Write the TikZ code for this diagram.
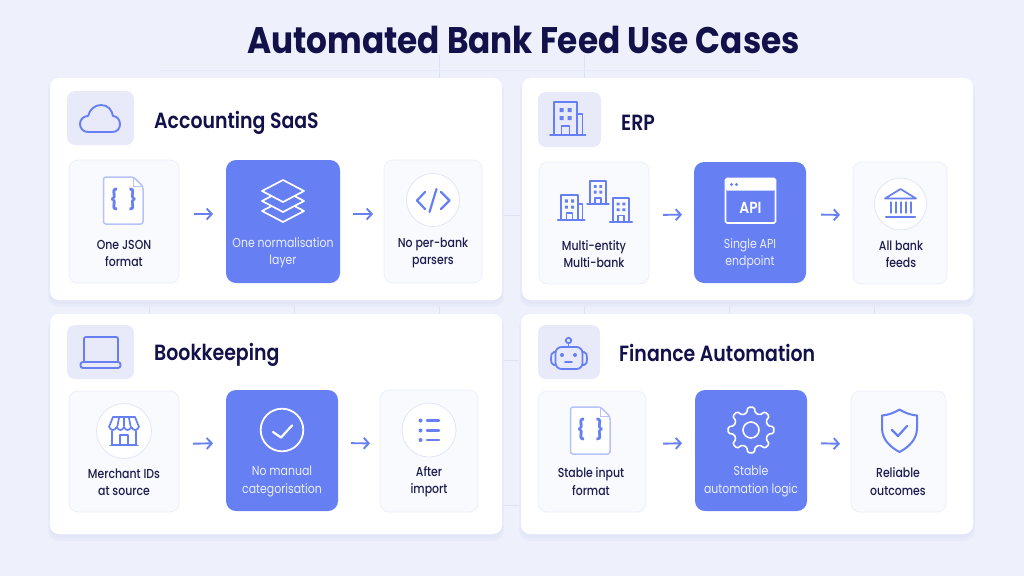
\documentclass[tikz,border=0pt]{standalone}
\usepackage{fontspec}
\setmainfont{Poppins}
\newfontfamily\titlefont[FakeStretch=.885]{Poppins Bold}
\newfontfamily\headfont[FakeStretch=.86]{Poppins SemiBold}
\newfontfamily\lblfont[FakeStretch=.84]{Poppins Medium}
\newfontfamily\midfont[FakeStretch=.84]{Poppins}
\usetikzlibrary{arrows.meta}
\definecolor{pagebg}{HTML}{EEF0FC}
\definecolor{gridc}{HTML}{DDE1F5}
\definecolor{shadowc}{HTML}{E3E6F7}
\definecolor{navy}{HTML}{12114A}
\definecolor{ink}{HTML}{1C1C4E}
\definecolor{blue}{HTML}{667FF3}
\definecolor{paleblue}{HTML}{B6C2F9}
\definecolor{iconbg}{HTML}{E8EAFA}
\definecolor{subbg}{HTML}{F9FAFE}
\definecolor{subline}{HTML}{ECEEF9}
\definecolor{midtext}{HTML}{EAEEFF}
\definecolor{ringc}{HTML}{E2E5F8}
\newcommand\bx[6]{%
  \pgfmathsetmacro\cxx{(#3+#5)/2}\pgfmathsetmacro\cyy{(#4+#6)/2}%
  \pgfmathsetmacro\www{#5-#3}\pgfmathsetmacro\hhh{#6-#4}%
  \node[#2,minimum width=\www pt,minimum height=\hhh pt] (#1) at (\cxx,\cyy) {};}
\newcommand\bldg[4]{% cx, bottom, scale, side
  \begin{scope}[shift={(#1,#2)},scale=#3,icon]
    \draw (-11.5,0) -- (-11.5,-33) -- (11.5,-33) -- (11.5,0);
    \draw (-15.5,0) -- (15.5,0);
    \ifnum#4=1 \draw (11.5,-21) -- (17,-21) -- (17,0); \draw (12,0) -- (20,0);\fi
    \draw (-4,0) -- (-4,-9) -- (4,-9) -- (4,0);
    \fill[blue] (-6,-27) rectangle (-2,-23) (2,-27) rectangle (6,-23) (-6,-19) rectangle (-2,-15) (2,-19) rectangle (6,-15);
  \end{scope}}
\newcommand\docicon[2]{%
  \begin{scope}[shift={(#1,#2)}]
    \draw[line width=1.5pt,paleblue,fill=white,rounded corners=2.5pt,line join=round] (-20,-23.5) -- (10,-23.5) -- (19.5,-14) -- (19.5,23.5) -- (-20,23.5) -- cycle;
    \draw[line width=1.2pt,paleblue,line join=round] (10,-23.5) -- (10,-14) -- (19.5,-14);
    \node[text=blue,font=\fontsize{20}{20}\titlefont,inner sep=0pt] at (0,-1) {\{\,\,\,\}};
  \end{scope}}
\tikzset{
  x=1pt,y=-1pt,
  card/.style={draw=none,fill=white,rounded corners=9pt,inner sep=0pt,outer sep=0pt},
  iconbox/.style={draw=none,fill=iconbg,rounded corners=8pt,inner sep=0pt,outer sep=0pt},
  subbox/.style={draw=subline,line width=.7pt,fill=subbg,rounded corners=9pt,inner sep=0pt,outer sep=0pt},
  midbox/.style={draw=none,fill=blue,rounded corners=10pt,inner sep=0pt,outer sep=0pt},
  heading/.style={anchor=west,text=navy,inner sep=0pt,font=\fontsize{22}{26}\headfont},
  lbl/.style={align=center,text=ink,inner sep=0pt,font=\fontsize{13}{17.3}\lblfont},
  midlbl/.style={align=center,inner sep=0pt,text=midtext,font=\fontsize{13}{17.3}\midfont},
  flow/.style={draw=blue,line width=1.9pt,-{Straight Barb[length=5pt,width=11pt,line width=1.9pt]}},
  icon/.style={draw=blue,line width=1.7pt,line cap=round,line join=round},
  wicon/.style={draw=white,line width=1.7pt,line cap=round,line join=round},
  ring/.style={draw=ringc,line width=.8pt,fill=white},
  grid line/.style={draw=gridc,line width=.7pt},
}
\begin{document}
\begin{tikzpicture}
\useasboundingbox (0,0) rectangle (1024,576);
\fill[pagebg] (0,0) rectangle (1024,576);
% faint background grid
\foreach \gx in {149,294,439,584,729,874} \draw[grid line] (\gx,296) -- (\gx,318);
\foreach \gx in {439,584} \draw[grid line] (\gx,55) -- (\gx,80);
\draw[gridc!50!pagebg,line width=.7pt] (160,70) -- (760,70);
\foreach \gy in {215,360,505} \draw[grid line] (498,\gy) -- (526,\gy);
% card shadows
\foreach \xa/\ya/\xb/\yb in {50/78/502/300,522/78/973/300,50/314/502/534,521/314/973/534}{
  \fill[shadowc!60!pagebg,rounded corners=11pt] (\xa-2,\ya+2) rectangle (\xb+2,\yb+7);
  \fill[shadowc,rounded corners=10pt] (\xa,\ya+2) rectangle (\xb,\yb+4);
}
% cards
\bx{c1}{card}{50}{78}{502}{300}
\bx{c2}{card}{522}{78}{973}{300}
\bx{c3}{card}{50}{314}{502}{534}
\bx{c4}{card}{521}{314}{973}{534}
\node[anchor=center,text=navy,inner sep=0pt,font=\fontsize{37}{42}\titlefont] (title) at (523.5,40) {Automated Bank Feed Use Cases};
% icon boxes
\bx{i1}{iconbox}{67}{91}{134}{145}
\bx{i2}{iconbox}{538}{92}{601}{147}
\bx{i3}{iconbox}{67}{325}{134}{379}
\bx{i4}{iconbox}{538}{325}{600}{379}
\node[heading] (h1) at (154,123) {Accounting SaaS};
\node[heading] (h2) at (621,122.5) {ERP};
\node[heading] (h3) at (154,355) {Bookkeeping};
\node[heading] (h4) at (619,353) {Finance Automation};
% steps
\bx{a1}{subbox}{69}{160}{179}{283}
\bx{a2}{midbox}{226}{160}{340}{283}
\bx{a3}{subbox}{384}{160}{482}{283}
\bx{b1}{subbox}{539}{162}{649}{284}
\bx{b2}{midbox}{694}{162}{806}{283}
\bx{b3}{subbox}{853}{162}{947}{284}
\bx{d1}{subbox}{69}{391}{179}{512}
\bx{d2}{midbox}{226}{390}{338}{511}
\bx{d3}{subbox}{380}{390}{478}{512}
\bx{e1}{subbox}{538}{391}{646}{512}
\bx{e2}{midbox}{695}{390}{807}{511}
\bx{e3}{subbox}{851}{391}{946}{512}
% arrows
\draw[flow,shorten <=15pt,shorten >=13pt] ([yshift=7.5pt]a1.east) -- ([yshift=7.5pt]a2.west);
\draw[flow,shorten <=13pt,shorten >=11pt] ([yshift=7.5pt]a2.east) -- ([yshift=7.5pt]a3.west);
\draw[flow,shorten <=14pt,shorten >=12pt] ([yshift=8pt]b1.east) -- ([yshift=8pt]b2.west);
\draw[flow,shorten <=15pt,shorten >=13pt] ([yshift=8pt]b2.east) -- ([yshift=8pt]b3.west);
\draw[flow,shorten <=14pt,shorten >=13pt] ([yshift=7.5pt]d1.east) -- ([yshift=7.5pt]d2.west);
\draw[flow,shorten <=13pt,shorten >=10pt] ([yshift=7.5pt]d2.east) -- ([yshift=7.5pt]d3.west);
\draw[flow,shorten <=17pt,shorten >=13pt] ([yshift=7.5pt]e1.east) -- ([yshift=7.5pt]e2.west);
\draw[flow,shorten <=14pt,shorten >=11pt] ([yshift=7.5pt]e2.east) -- ([yshift=7.5pt]e3.west);
% labels
\node[lbl] (ta1) at (124,253.5) {One JSON\\format};
\node[midlbl] (ta2) at (283,253) {One normalisation\\layer};
\node[lbl] (ta3) at (433,253) {No per-bank\\parsers};
\node[lbl] (tb1) at (594,254) {Multi-entity\\Multi-bank};
\node[midlbl] (tb2) at (750,254) {Single API\\endpoint};
\node[lbl] (tb3) at (901,254) {All bank\\feeds};
\node[lbl] (td1) at (124,482.5) {Merchant IDs\\at source};
\node[midlbl] (td2) at (282,481.5) {No manual\\categorisation};
\node[lbl] (td3) at (429,481.5) {After\\import};
\node[lbl] (te1) at (591,481.5) {Stable input\\format};
\node[midlbl] (te2) at (751,481.5) {Stable\\automation logic};
\node[lbl] (te3) at (898,481.5) {Reliable\\outcomes};
% cloud
\draw[icon,line width=1.9pt] (88,132) .. controls (83,132) and (80,128) .. (80,124) .. controls (80,119) and (84,116) .. (88,116) .. controls (90,109) and (95,105) .. (101,105) .. controls (108,105) and (112,110) .. (113,116) .. controls (117,116) and (120,120) .. (120,124) .. controls (120,129) and (117,132) .. (112,132) -- cycle;
% JSON doc icons
\docicon{123.5}{200.5}
\docicon{590.5}{430.5}
% layers
\begin{scope}[shift={(283,0)}]
 \draw[wicon,fill=blue] (-21,211) -- (0,200) -- (21,211) -- (0,222) -- cycle;
 \draw[wicon,fill=blue] (-21,201) -- (0,190) -- (21,201) -- (0,212) -- cycle;
 \draw[wicon,fill=blue] (-21,191) -- (0,180) -- (21,191) -- (0,202) -- cycle;
\end{scope}
% code icon
\draw[ring] (433,200) circle[radius=26.5];
\begin{scope}[icon,line width=2.2pt]
 \draw (425,192) -- (417,200.5) -- (425,209);
 \draw (441,192) -- (449.5,200.5) -- (441,209);
 \draw (436.5,189) -- (429.5,212);
\end{scope}
% ERP building
\bldg{565.5}{135}{1}{1}
% multi-entity
\bldg{569.5}{220}{.76}{1}
\bldg{598}{204}{.70}{0}
\bldg{621}{222}{.72}{0}
% API window
\draw[wicon,rounded corners=1.5pt] (725.5,178.5) rectangle (775.5,223);
\fill[white,rounded corners=1.5pt] (725.5,178.5) rectangle (775.5,190.5);
\fill[blue] (731.5,184.5) circle[radius=1.7] (736.5,184.5) circle[radius=1.7];
\node[text=white,inner sep=0pt,font=\fontsize{16}{16}\headfont] (api) at (750.5,207.5) {API};
% bank
\draw[ring] (900.5,204) circle[radius=26];
\begin{scope}[icon]
 \draw (885,198.5) -- (900.5,189) -- (916,198.5) -- cycle;
 \draw[line width=2.2pt] (886,216.7) -- (915,216.7);
 \foreach \qx in {891,896,901,906,911} \draw[line width=1.3pt] (\qx,202) -- (\qx,213);
\end{scope}
% laptop
\begin{scope}[icon,line width=1.9pt]
 \draw[rounded corners=2pt] (84,361) -- (84,337) -- (118,337) -- (118,361);
 \draw[rounded corners=2.5pt] (80.5,362) -- (120.5,362) -- (120.5,368) -- (80.5,368) -- cycle;
\end{scope}
% store
\draw[ring] (124,431) circle[radius=27.5];
\begin{scope}[icon,line width=1.7pt]
 \draw (113,417) -- (135,417) -- (139,427) .. controls (137,431) and (133,431) .. (131.5,427) .. controls (129,431) and (126,431) .. (124,427) .. controls (122,431) and (119,431) .. (116.5,427) .. controls (115,431) and (111,431) .. (109,427) -- cycle;
 \draw (119,418) -- (117.5,426) (124,418) -- (124,426) (129,418) -- (130.5,426);
 \draw (112,431) -- (112,445) -- (136,445) -- (136,431);
 \draw (120,445) -- (120,435) -- (128,435) -- (128,445);
 \draw (110,445.5) -- (138,445.5);
\end{scope}
% check circle
\draw[wicon,line width=1.8pt] (282,430) circle[radius=21.3];
\draw[wicon,line width=2.2pt] (273,432) -- (281,437.5) -- (292,425.5);
% list
\draw[ring] (429,430) circle[radius=27];
\foreach \qy in {420.5,430.5,440} {
  \fill[blue] (420.5,\qy) circle[radius=2];
  \draw[icon,line width=2.4pt] (427,\qy) -- (439,\qy);
}
% robot
\begin{scope}[icon,line width=1.8pt]
 \draw (568.5,340.5) circle[radius=2.7];
 \draw (568.5,343.5) -- (568.5,347);
 \draw[rounded corners=6pt] (555.5,347) rectangle (582.5,369);
 \draw[rounded corners=2pt] (555.5,352) -- (552,352) -- (551,357) -- (551,361) -- (552,365) -- (555.5,365);
 \draw[rounded corners=2pt] (582.5,352) -- (586,352) -- (587,357) -- (587,361) -- (586,365) -- (582.5,365);
 \draw (565,362) -- (572,362);
\end{scope}
\fill[blue] (562,355) circle[radius=2] (575,355) circle[radius=2];
% gear
\begin{scope}[shift={(751,430)}]
 \draw[wicon,line width=1.6pt,rounded corners=1.4pt] (-8:23pt) \foreach \ga in {0,45,...,315} { -- (\ga-8:23pt) -- (\ga+8:23pt) -- (\ga+14:17.5pt) -- (\ga+31:17.5pt) } -- cycle;
 \draw[wicon,line width=1.6pt] (0,0) circle[radius=8];
\end{scope}
% shield
\begin{scope}[icon,line width=2pt]
 \draw (899.5,409.5) .. controls (905,413) and (911,415) .. (917,415.5) -- (917,428) .. controls (917,440) and (908,447.5) .. (899.5,452) .. controls (891,447.5) and (882,440) .. (882,428) -- (882,415.5) .. controls (888,415) and (894,413) .. (899.5,409.5) -- cycle;
 \draw[line width=2.2pt] (892,430) -- (898,436) -- (907,426);
\end{scope}
\end{tikzpicture}
\end{document}
